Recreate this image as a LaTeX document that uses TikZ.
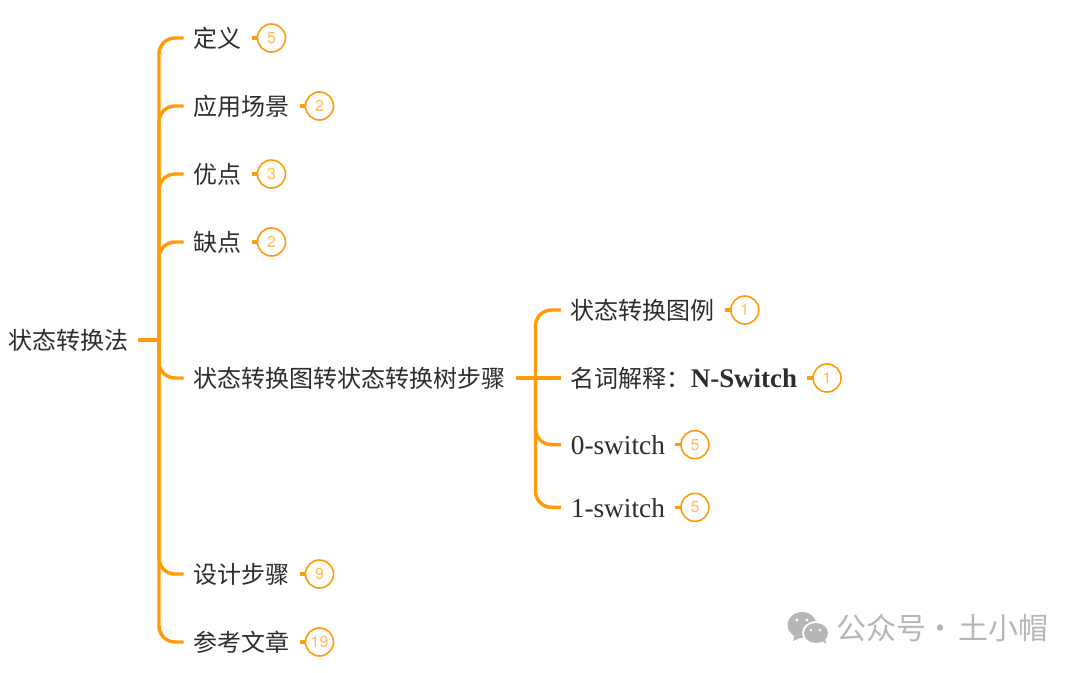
\documentclass[tikz,border=0pt]{standalone}
\usepackage{fontspec}
\usepackage{xcolor}
\usetikzlibrary{positioning}
\setmainfont{Liberation Serif}
\newfontfamily\cjk{Noto Sans CJK SC}
\newfontfamily\numfont{TeX Gyre Heros}
\definecolor{mindorange}{RGB}{255,155,10}
\definecolor{badgetext}{RGB}{255,185,105}
\definecolor{inkgrey}{RGB}{45,45,45}
\definecolor{markgrey}{RGB}{182,182,182}

\begin{document}
\begin{tikzpicture}[
  x=0.75pt, y=-0.75pt,
  leaf/.style={inner xsep=7.5pt, inner ysep=0pt, outer sep=0pt, text=inkgrey,
               text height=16pt, text depth=1.5pt, font=\cjk\fontsize{18}{22}\selectfont},
  branch/.style={mindorange, line width=2.6pt, rounded corners=12pt},
  stub/.style={mindorange, line width=2.6pt},
  badge/.style={circle, draw=mindorange, line width=1.2pt, minimum size=21pt, inner sep=0pt,
                outer sep=0pt, text=badgetext, font=\numfont\fontsize{12}{14}\selectfont},
  node distance=4.5pt,
]
\useasboundingbox (0,0) rectangle (1080,672);

% root and first level
\node[leaf, anchor=east] (root) at (138,340) {状态转换法};
\coordinate (fork) at (159,340);
\node[leaf, anchor=west] (def) at (183.5,38) {定义};
\node[leaf, below=51pt of def.west, anchor=west] (scene) {应用场景};
\node[leaf, below=51pt of scene.west, anchor=west] (pros) {优点};
\node[leaf, below=51pt of pros.west, anchor=west] (cons) {缺点};
\node[leaf, below=102pt of cons.west, anchor=west] (tree) {状态转换图转状态转换树步骤};
\node[leaf, below=147pt of tree.west, anchor=west] (design) {设计步骤};
\node[leaf, below=51pt of design.west, anchor=west] (refs) {参考文章};

% second level
\coordinate[right=15pt of tree.east] (subfork);
\node[leaf, right=34pt of tree.east, anchor=west] (noun) {名词解释：{\rmfamily\fontsize{20.2}{22}\selectfont\bfseries N-Switch}};
\node[leaf, above=51pt of noun.west, anchor=west] (legend) {状态转换图例};
\node[leaf, below=50pt of noun.west, anchor=west] (zero) {\rmfamily\fontsize{20.5}{22}\selectfont 0-switch};
\node[leaf, below=47pt of zero.west, anchor=west] (one) {\rmfamily\fontsize{20.5}{22}\selectfont 1-switch};

% count badges
\node[badge, right=of def] (bdef) {5};
\node[badge, right=of scene] (bscene) {2};
\node[badge, right=of pros] (bpros) {3};
\node[badge, right=of cons] (bcons) {2};
\node[badge, right=of design] (bdesign) {9};
\node[badge, right=of refs] (brefs) {19};
\node[badge, right=of legend] (blegend) {1};
\node[badge, right=of noun] (bnoun) {1};
\node[badge, right=of zero] (bzero) {5};
\node[badge, right=of one] (bone) {5};

% connectors
\draw[stub] (root.east) -- (fork);
\foreach \leafname in {def,scene,pros,cons,tree,design,refs}
  \draw[branch] (\leafname.west) -| (fork);
\draw[stub] (tree.east) -- (noun.west);
\foreach \leafname in {legend,zero,one}
  \draw[branch] (\leafname.west) -| (subfork);
\foreach \leafname/\badgename in {def/bdef,scene/bscene,pros/bpros,cons/bcons,design/bdesign,
    refs/brefs,legend/blegend,noun/bnoun,zero/bzero,one/bone}
  \draw[stub] (\leafname.east) -- (\badgename.west);

% watermark
\fill[markgrey] (802,625) ellipse (14.5 and 13);
\fill[markgrey] (795,634) -- (793,641) -- (802,637) -- cycle;
\fill[white] (816,633) ellipse (14 and 12);
\fill[markgrey] (816,633) ellipse (12 and 10);
\fill[markgrey] (821,640) -- (826,644) -- (825,637) -- cycle;
\foreach \px/\py/\pr in {797/620/1.7,807/620/1.7,811/630/1.4,820/630/1.4}
  \fill[white] (\px,\py) circle (\pr);
\node[anchor=west, inner sep=0pt, text=markgrey, font=\cjk\fontsize{22.5}{24}\selectfont] (mark) at (836,628)
  {公众号\makebox[24.5pt][c]{·\hspace{3pt}}土小帽};
\end{tikzpicture}
\end{document}
